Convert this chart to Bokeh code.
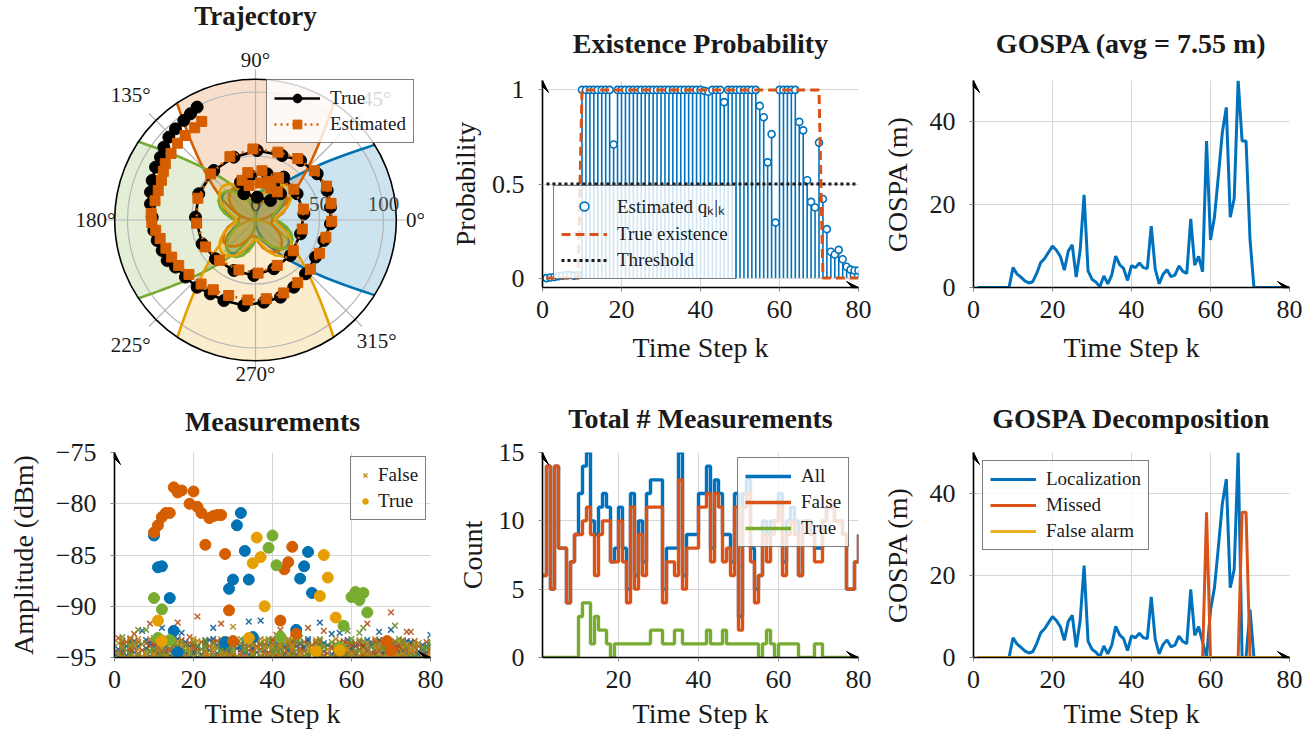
import numpy as np
from bokeh.plotting import figure
from bokeh.layouts import column, row
from bokeh.models import Range1d, Legend, LegendItem, Label, Arrow, VeeHead, FixedTicker
from bokeh.embed import file_html
from bokeh.resources import INLINE
from bokeh.core.properties import value

FONT = "Liberation Serif"
C_BLUE = "#0072BD"
C_ORANGE = "#D95319"
C_YELLOW = "#EDB120"
C_GREEN = "#77AC30"
SENSOR_COLORS = ["#0072B2", "#D55E00", "#77AC30", "#E69F00"]
SENSOR_X_COLORS = ["#0B5C94", "#B4501A", "#6B8F2B", "#B7851A"]

# ---------------------------------------------------------------- data
steps = list(range(1, 81))

existence_est = [0.0, 0.003, 0.006, 0.01, 0.012, 0.015, 0.016, 0.012, 0.015,
                 1, 1, 1, 1, 1, 1, 1, 1,
                 0.71,
                 1, 1, 1, 1, 1, 1, 1, 1, 1, 1, 1, 1, 1, 1, 1, 1, 1, 1, 1, 1, 1, 1,
                 0.995, 0.99, 1, 1, 1, 0.935,
                 1, 1, 1, 1, 1, 1, 1, 1,
                 0.915, 0.855, 0.615, 0.765, 0.295,
                 1, 1, 1, 1, 1,
                 0.83, 0.785, 0.52, 0.405, 0.375, 0.72, 0.42, 0.26, 0.14, 0.125,
                 0.15, 0.10, 0.06, 0.045, 0.04, 0.04]
existence_true = [0, 0, 0, 0, 0, 0, 0, 0, 0, 1,
                  1, 1, 1, 1, 1, 1, 1, 1, 1, 1,
                  1, 1, 1, 1, 1, 1, 1, 1, 1, 1,
                  1, 1, 1, 1, 1, 1, 1, 1, 1, 1,
                  1, 1, 1, 1, 1, 1, 1, 1, 1, 1,
                  1, 1, 1, 1, 1, 1, 1, 1, 1, 1,
                  1, 1, 1, 1, 1, 1, 1, 1, 1, 1,
                  0, 0, 0, 0, 0, 0, 0, 0, 0, 0]
threshold = 0.5

gospa_total = [0, 0, 0, 0, 0, 0, 0, 0, 0,
               4.8, 3.3, 2.5, 1.6, 1.1, 1.4, 3.4, 6.0, 7.0, 8.5, 10.0, 9.0, 7.5, 4.2,
               8.8, 10.3, 2.5, 9.0, 22.4, 4.0, 2.0, 1.3, 0.2, 2.8, 0.9, 3.0, 7.6, 5.5,
               4.6, 1.7, 5.3, 4.8, 5.9, 4.8, 4.6, 14.8, 4.5, 0.9, 3.2, 4.3, 2.6, 3.0,
               5.2, 3.9, 3.4, 16.6, 5.4, 7.5, 3.8, 35.4, 11.5, 17.0, 27.0, 37.5, 43.5,
               17.0, 21.5, 50.0, 35.4, 35.4, 11.7,
               0, 0, 0, 0, 0, 0, 0, 0, 0, 0]
gospa_localization = [0, 0, 0, 0, 0, 0, 0, 0, 0,
                      4.8, 3.3, 2.5, 1.6, 1.1, 1.4, 3.4, 6.0, 7.0, 8.5, 10.0, 9.0, 7.5, 4.2,
                      8.8, 10.3, 2.5, 9.0, 22.4, 4.0, 2.0, 1.3, 0.2, 2.8, 0.9, 3.0, 7.6, 5.5,
                      4.6, 1.7, 5.3, 4.8, 5.9, 4.8, 4.6, 14.8, 4.5, 0.9, 3.2, 4.3, 2.6, 3.0,
                      5.2, 3.9, 3.4, 16.6, 5.4, 7.5, 3.8, 0.0, 11.5, 17.0, 27.0, 37.5, 43.5,
                      17.0, 21.5, 50.0, 0.0, 0.0, 11.7,
                      0, 0, 0, 0, 0, 0, 0, 0, 0, 0]
gospa_missed = [0] * 58 + [35.4] + [0] * 8 + [35.4, 35.4] + [0] * 11
gospa_false = [0] * 80

count_false = [6, 14, 5, 14, 8, 8, 4, 7, 9, 9, 10, 11, 9, 6, 9, 10, 10, 7, 7, 10,
               7, 4, 11, 5, 9, 6, 11, 11, 11, 11, 4, 7, 7, 6, 13, 5, 8, 8, 8, 11,
               11, 12, 7, 12, 11, 7, 8, 6, 11, 2, 11, 12, 7, 4, 6, 9, 7, 9, 10, 11,
               6, 9, 10, 9, 6, 10, 10, 9, 7, 7, 10, 11, 11, 10, 10, 9, 5, 5, 7, 9]
count_true = [0, 0, 0, 0, 0, 0, 0, 0, 0, 3, 4, 4, 1, 3, 2, 2, 1, 0, 1, 1,
              1, 1, 1, 1, 1, 1, 1, 2, 2, 2, 1, 1, 1, 2, 2, 1, 1, 1, 1, 1,
              1, 2, 1, 1, 1, 2, 1, 1, 1, 1, 1, 1, 1, 1, 0, 1, 2, 1, 0, 1,
              1, 1, 1, 1, 0, 0, 0, 0, 1, 1, 0, 0, 0, 0, 0, 0, 0, 0, 0, 0]

# true detections per sensor (time step, amplitude dBm)
det_k = [
    [10, 11, 12, 14, 15, 16, 28, 29, 30, 31, 32, 33, 34, 35, 46, 47, 48, 49, 50],
    [10, 11, 12, 13, 14, 15, 16, 17, 19, 20, 21, 22, 23, 24, 25, 26, 27, 28, 29, 30,
     42, 43, 44, 45, 46, 69, 70],
    [10, 11, 12, 14, 39, 40, 41, 42, 57, 58, 60, 61, 62, 63, 64],
    [11, 12, 34, 35, 36, 37, 38, 51, 52, 53, 54, 56, 57],
]
det_amp = [
    [-83.1, -86.2, -86.1, -89.2, -92.4, -94.5, -93.5, -88.3, -87.4, -82.1, -80.9,
     -84.6, -87.4, -93.0, -92.3, -87.3, -86.1, -84.7, -88.7],
    [-82.8, -82.1, -81.3, -80.9, -80.9, -78.4, -78.9, -78.7, -80.0, -78.8, -80.3,
     -80.9, -84.0, -81.4, -81.2, -81.1, -81.1, -84.9, -90.4, -93.4,
     -91.4, -86.4, -85.7, -84.2, -92.7, -93.4, -94.3],
    [-89.2, -93.1, -90.3, -93.3, -84.3, -83.1, -86.0, -93.0, -94.0, -91.9, -89.1,
     -88.6, -89.4, -88.7, -90.6],
    [-91.4, -93.4, -93.1, -85.8, -83.3, -85.2, -90.0, -94.4, -89.0, -85.0, -87.2,
     -91.1, -94.3],
]

# false-alarm amplitudes (dBm) per time step, sensor = position % 4
false_amp = [
    [-94.2, -93.1, -94.8, -93.6, -95.0, -94.5],
    [-93.4, -94.6, -93.0, -94.1, -95.0, -93.8, -94.9, -93.3, -94.4, -94.7, -93.9, -95.0, -94.2, -93.6],
    [-94.8, -93.5, -94.3, -95.0, -93.9],
    [-94.0, -93.3, -94.7, -93.1, -94.9, -94.4, -93.7, -95.0, -93.5, -94.2, -94.8, -93.9, -94.6, -93.2],
    [-94.5, -92.7, -93.8, -94.9, -93.4, -94.1, -95.0, -93.6],
    [-93.9, -94.6, -92.3, -94.2, -95.0, -93.5, -94.8, -93.2],
    [-92.4, -94.3, -93.7, -94.9],
    [-94.1, -93.6, -92.3, -94.7, -93.3, -95.0, -94.4],
    [-93.8, -91.7, -94.5, -93.2, -94.9, -93.9, -94.3, -95.0, -93.5],
    [-94.4, -93.7, -93.1, -94.8, -95.0, -93.4, -94.2, -94.6, -93.9],
    [-93.5, -94.1, -94.9, -92.9, -94.5, -93.8, -95.0, -94.3, -93.2, -94.7],
    [-92.1, -94.6, -93.9, -94.2, -95.0, -93.4, -94.8, -93.7, -94.4, -93.1, -94.9],
    [-94.0, -93.5, -94.7, -95.0, -93.2, -94.3, -93.8, -94.9, -94.5],
    [-93.6, -94.4, -95.0, -93.3, -94.8, -94.1],
    [-94.7, -93.9, -94.2, -93.4, -95.0, -94.5, -93.7, -94.9, -93.1],
    [-94.3, -91.6, -94.8, -93.5, -94.0, -95.0, -93.8, -94.6, -93.2, -94.4],
    [-92.6, -94.1, -93.6, -94.9, -95.0, -93.3, -94.5, -93.9, -94.7, -94.2],
    [-94.6, -93.8, -94.3, -95.0, -93.5, -94.9, -93.9],
    [-93.9, -93.0, -94.7, -94.2, -95.0, -93.6, -94.4],
    [-94.4, -93.7, -95.0, -93.2, -94.8, -94.1, -93.5, -94.9, -94.6, -93.9],
    [-94.0, -91.0, -94.6, -93.4, -95.0, -94.3, -93.8],
    [-94.7, -93.5, -94.2, -95.0],
    [-93.6, -94.4, -93.3, -94.9, -95.0, -93.9, -94.1, -94.6, -93.4, -94.8, -93.7],
    [-94.3, -93.9, -95.0, -94.7, -93.3],
    [-92.1, -94.5, -93.7, -94.2, -95.0, -93.5, -94.8, -94.0, -93.2],
    [-94.6, -93.4, -94.1, -95.0, -93.8, -94.9],
    [-93.8, -91.7, -94.3, -94.8, -95.0, -93.5, -94.6, -93.2, -94.1, -94.9, -93.6],
    [-94.2, -93.6, -94.9, -93.3, -95.0, -94.5, -93.9, -94.7, -94.0, -93.4, -94.8],
    [-93.5, -94.7, -94.0, -93.2, -94.4, -95.0, -93.8, -94.9, -94.1, -93.6, -94.6],
    [-94.8, -93.4, -94.5, -92.0, -95.0, -93.9, -94.2, -94.6, -93.7, -94.9, -93.3],
    [-94.1, -93.7, -94.9, -95.0],
    [-93.9, -94.5, -93.2, -95.0, -94.2, -94.8, -93.6],
    [-94.6, -93.8, -94.1, -95.0, -93.4, -94.9, -94.3],
    [-91.5, -94.3, -93.6, -95.0, -94.7, -93.9],
    [-94.0, -93.5, -94.8, -93.1, -95.0, -94.4, -93.7, -94.6, -94.2, -93.3, -94.9, -93.8, -94.5],
    [-94.5, -93.9, -95.0, -94.1, -93.4],
    [-91.4, -94.2, -93.6, -94.8, -95.0, -93.8, -94.4, -93.2],
    [-94.3, -93.7, -94.9, -93.3, -95.0, -94.6, -93.9, -94.1],
    [-93.8, -94.5, -93.2, -94.0, -95.0, -94.7, -93.5, -94.8],
    [-94.6, -93.4, -94.1, -94.8, -95.0, -93.7, -94.3, -93.9, -94.9, -93.2, -94.5],
    [-93.6, -92.8, -94.4, -95.0, -93.9, -94.7, -94.1, -93.3, -94.9, -94.2, -93.8],
    [-94.2, -92.3, -93.5, -94.9, -95.0, -93.8, -94.6, -94.0, -93.4, -94.8, -94.3, -93.7],
    [-93.9, -94.5, -95.0, -93.3, -94.7, -94.1, -93.6],
    [-94.4, -93.7, -94.0, -93.2, -95.0, -94.8, -93.5, -94.6, -94.2, -93.9, -94.9, -93.4],
    [-93.5, -94.2, -94.8, -93.8, -95.0, -94.5, -93.3, -94.0, -94.7, -93.6, -94.9],
    [-94.7, -93.6, -94.3, -95.0, -93.9, -94.8, -93.4],
    [-93.7, -94.4, -93.1, -94.9, -95.0, -94.1, -93.5, -94.6],
    [-94.1, -93.5, -94.8, -95.0, -93.9, -94.4],
    [-93.4, -92.1, -94.6, -94.0, -95.0, -93.7, -94.9, -94.3, -93.2, -94.7, -93.8],
    [-94.5, -93.8],
    [-94.2, -93.6, -94.9, -93.3, -95.0, -94.5, -93.9, -94.7, -94.1, -93.5, -94.8],
    [-91.6, -94.3, -93.8, -94.6, -95.0, -93.4, -94.9, -94.1, -93.7, -94.5, -93.2, -94.8],
    [-94.4, -92.4, -94.0, -95.0, -93.6, -94.8, -93.9],
    [-93.8, -94.6, -95.0, -94.2],
    [-92.7, -94.1, -93.5, -95.0, -94.7, -93.9],
    [-94.3, -93.7, -94.9, -93.2, -95.0, -94.5, -93.8, -94.1, -94.7],
    [-92.6, -94.4, -93.9, -95.0, -94.8, -93.5, -94.2],
    [-94.6, -93.4, -94.0, -94.8, -95.0, -93.7, -94.3, -93.9, -94.9],
    [-93.9, -94.5, -92.4, -94.1, -95.0, -93.6, -94.8, -94.2, -93.3, -94.7],
    [-94.2, -93.8, -93.2, -94.6, -95.0, -94.4, -93.5, -94.9, -94.0, -93.7, -94.8],
    [-94.7, -93.6, -94.3, -95.0, -93.9, -94.5],
    [-93.5, -94.2, -92.6, -94.8, -95.0, -93.8, -94.4, -93.3, -94.9],
    [-94.0, -93.7, -92.1, -94.5, -95.0, -94.8, -93.4, -94.2, -93.9, -94.6],
    [-94.4, -91.7, -94.8, -93.6, -95.0, -94.1, -93.8, -94.6, -93.3],
    [-93.8, -94.5, -94.0, -95.0, -93.5, -94.8],
    [-94.3, -93.6, -94.9, -93.2, -95.0, -94.6, -93.9, -94.1, -94.7, -93.4],
    [-92.5, -94.2, -93.8, -94.6, -95.0, -93.5, -94.9, -94.0, -93.3, -94.4],
    [-94.6, -93.9, -94.2, -95.0, -93.6, -94.8, -94.1, -93.4, -94.5],
    [-93.7, -94.4, -94.9, -95.0, -93.3, -94.1, -94.6],
    [-92.3, -90.6, -94.3, -95.0, -93.8, -94.7, -94.0],
    [-94.5, -93.6, -91.9, -94.9, -95.0, -94.2, -93.4, -94.7, -93.9, -94.3],
    [-93.9, -94.3, -94.7, -93.5, -95.0, -94.0, -93.2, -94.8, -94.5, -93.7, -94.9],
    [-94.2, -93.8, -93.4, -94.6, -95.0, -94.9, -93.6, -94.1, -94.4, -93.3, -94.7],
    [-94.7, -92.5, -94.0, -93.7, -95.0, -94.4, -93.9, -94.8, -93.4, -94.2],
    [-93.6, -92.5, -94.5, -94.1, -95.0, -93.8, -94.9, -94.3, -93.5, -94.6],
    [-94.0, -93.4, -94.8, -93.9, -95.0, -94.5, -93.7, -94.2, -94.9],
    [-94.4, -93.9, -95.0, -93.6, -94.7],
    [-93.8, -94.6, -94.1, -95.0, -94.3],
    [-94.5, -93.5, -94.2, -95.0, -93.9, -94.8, -94.0],
    [-92.8, -94.3, -93.7, -94.9, -95.0, -94.1, -93.4, -94.6, -93.8],
]

# trajectory (metres, sensor at origin)
true_x = [-45.6, -50.8, -56.0, -62.5, -67.7, -71.6, -74.2, -78.1, -80.7, -82.0,
          -82.0, -80.7, -79.4, -76.8, -72.9, -69.0, -62.5, -54.7, -45.6, -35.2,
          -24.7, -9.1, 6.5, 19.5, 29.9, 39.1, 46.9, 53.4, 58.6, 58.6,
          56.0, 48.2, 35.2, 20.8, 1.3, -16.9, -32.6, -44.3, -46.9, -41.7,
          -31.3, -16.9, -1.3, 14.3, 27.3, 35.2, 37.8, 32.5, 22.1, 9.1,
          -3.9, -11.7, -9.1, 1.3, 11.7, 19.5, 14.3]
true_y = [88.2, 83.0, 77.8, 71.2, 64.7, 56.9, 49.1, 41.3, 30.9, 21.8,
          12.6, 2.2, -8.2, -16.0, -23.8, -31.6, -36.8, -44.6, -52.5, -57.7,
          -62.9, -66.8, -64.2, -60.3, -52.5, -42.0, -29.0, -16.0, -3.0, 10.0,
          23.1, 36.1, 46.5, 50.4, 54.3, 49.1, 38.7, 20.5, 2.2, -18.6,
          -30.3, -39.4, -43.3, -38.1, -27.7, -10.8, 4.8, 20.5, 33.5, 36.1,
          34.8, 29.6, 20.5, 17.9, 15.2, 20.5, 28.3]
est_x = [-42.0, -47.5, -55.0, -61.0, -66.0, -70.5, -72.0, -73.5, -76.0, -78.5,
         -81.5, -81.0, -78.0, -74.5, -70.0, -65.5, -60.0, -52.0, -42.5, -33.0,
         -21.0, -6.0, 8.5, 22.0, 33.0, 43.0, 50.0, 55.0, 59.5, 59.0,
         55.5, 46.0, 33.0, 17.5, -2.0, -20.0, -35.0, -45.0, -46.0, -39.0,
         -28.0, -13.0, 2.0, 17.0, 29.5, 36.5, 37.5, 30.0, 18.0, 5.0,
         -6.0, -10.5, -5.0, 4.0, 12.0, 17.0, 10.0]
est_y = [77.0, 72.0, 66.0, 60.0, 52.0, 44.0, 38.0, 31.0, 23.0, 15.0,
         5.0, -2.0, -8.0, -14.5, -22.0, -29.0, -35.5, -42.5, -50.0, -54.5,
         -59.0, -62.5, -61.5, -57.0, -49.0, -38.5, -26.0, -13.5, -1.0, 13.0,
         26.5, 38.5, 48.0, 53.0, 55.5, 49.5, 36.0, 17.0, -2.5, -21.0,
         -31.5, -39.0, -41.5, -35.5, -24.0, -7.0, 8.5, 24.0, 33.0, 38.5,
         37.0, 31.0, 27.0, 29.0, 25.0, 22.0, 30.0]

# sensor coverage (boresight angle, parabola coefficient 1/m) and beam pattern
sensor_angle_deg = [0, 90, 180, 270]
sensor_parabola = [0.027, 0.0243, 0.0245, 0.0246]
pattern_step_deg = [0, 7.5, 15, 22.5, 30, 37.5, 45, 52.5, 60, 67.5, 75, 82.5, 90]
pattern_radius = [15, 16.5, 21, 27, 32, 35.5, 37, 35.5, 32, 27, 21, 16.5, 15]
pattern_scale = [0.88, 0.82, 0.92, 1.0]
pattern_rotation_deg = [6, -8, 10, 0]

r_max = 110
radial_ticks = [0, 50, 100]
angle_ticks = [0, 45, 90, 135, 180, 225, 270, 315]

# ---------------------------------------------------------------- helpers
def base_style(p, xlabel, ylabel, xticks, yticks, ylabel_map=None, bottom_row=False,
               ylab_standoff=14, title_standoff=44):
    p.title.text_font = FONT
    p.title.text_font_size = "28px"
    p.title.text_font_style = "bold"
    p.title.text_color = "#1a1a1a"
    p.title.align = "center"
    p.title.standoff = title_standoff
    p.xaxis.axis_label = xlabel
    p.yaxis.axis_label = ylabel
    xt = FixedTicker(ticks=xticks)
    yt = FixedTicker(ticks=yticks)
    p.xaxis[0].ticker = xt
    p.yaxis[0].ticker = yt
    p.xgrid[0].ticker = xt
    p.ygrid[0].ticker = yt
    if ylabel_map:
        p.yaxis.major_label_overrides = ylabel_map
    p.axis.axis_label_text_font = FONT
    p.axis.axis_label_text_font_size = "28px"
    p.axis.axis_label_text_font_style = "normal"
    p.axis.axis_label_text_color = "#1a1a1a"
    p.axis.axis_label_text_line_height = 1.0
    p.axis.major_label_text_font = FONT
    p.axis.major_label_text_font_size = "26px"
    p.axis.major_label_text_color = "#1a1a1a"
    p.axis.major_label_text_line_height = 1.0
    p.axis.axis_line_color = "black"
    p.axis.axis_line_width = 1.6
    p.axis.major_tick_in = 0
    p.axis.major_tick_out = 4
    p.axis.major_tick_line_color = "#888888"
    p.axis.minor_tick_in = 0
    p.axis.minor_tick_out = 0
    p.xaxis.major_label_standoff = 9
    p.yaxis.major_label_standoff = 14
    p.xaxis.axis_label_standoff = 7 if bottom_row else 11
    p.yaxis.axis_label_standoff = ylab_standoff
    p.grid.grid_line_color = "#d6d6d6"
    p.grid.grid_line_width = 1
    p.outline_line_color = None
    xr, yr = p.x_range, p.y_range
    dx = (xr.end - xr.start) * 0.03
    dy = (yr.end - yr.start) * 0.03
    head = dict(size=12, line_color="black", fill_color="black", line_width=1)
    p.add_layout(Arrow(end=VeeHead(**head), x_start=xr.end - dx, y_start=yr.start,
                       x_end=xr.end, y_end=yr.start, line_color="black", line_width=1.6))
    p.add_layout(Arrow(end=VeeHead(**head), x_start=xr.start, y_start=yr.end - dy,
                       x_end=xr.start, y_end=yr.end, line_color="black", line_width=1.6))


def make_legend(items, loc, glyph_width=46, standoff=10):
    lg = Legend(items=items, location=loc, margin=0)
    lg.label_text_font = FONT
    lg.label_text_font_size = "19px"
    lg.label_text_color = "#1a1a1a"
    lg.border_line_color = "black"
    lg.border_line_width = 1.5
    lg.background_fill_color = "white"
    lg.background_fill_alpha = 0.82
    lg.padding = 7
    lg.spacing = 4
    lg.glyph_width = glyph_width
    lg.glyph_height = 22
    lg.label_height = 22
    lg.label_standoff = standoff
    return lg


def fig(title, xr, yr, w, h, bl, br, bt, bb):
    p = figure(title=title, width=w, height=h, x_range=Range1d(*xr), y_range=Range1d(*yr),
               toolbar_location=None, output_backend="svg",
               min_border_left=bl, min_border_right=br, min_border_top=bt, min_border_bottom=bb)
    p.frame_align = False
    return p


COLW = [445, 432, 427]
BORD = [(114, 15), (97, 19), (96, 15)]
# (top, bottom) borders; frames are 207 px (upper) and 205 px (lower) high
UPPER = (80, 92)
LOWER = (73, 76)
POLAR_H = 385
MEAS_B = (67, 76)

# ---------------------------------------------------------------- polar trajectory
PX = 1.28  # px per metre
cx, cy = 255, 219.5
pp = figure(width=COLW[0], height=POLAR_H,
            x_range=Range1d(-cx / PX, (COLW[0] - cx) / PX),
            y_range=Range1d(-(POLAR_H - cy) / PX, cy / PX),
            toolbar_location=None, output_backend="svg",
            x_axis_location=None, y_axis_location=None,
            min_border_left=0, min_border_right=0, min_border_top=0, min_border_bottom=0)
pp.frame_align = False
pp.grid.visible = False
pp.outline_line_color = None

reg_xs, reg_ys, bnd_xs, bnd_ys = [], [], [], []
for ang, c in zip(sensor_angle_deg, sensor_parabola):
    vh = np.sqrt((-1 + np.sqrt(1 + 4 * c * c * r_max ** 2)) / (2 * c * c))
    v = np.linspace(-vh, vh, 120)
    u = c * v * v
    al = np.arctan2(vh, c * vh * vh)
    a = np.linspace(al, -al, 80)
    U = np.concatenate([u, r_max * np.cos(a)])
    V = np.concatenate([v, r_max * np.sin(a)])
    ph = np.radians(ang)
    reg_xs.append(U * np.cos(ph) - V * np.sin(ph))
    reg_ys.append(U * np.sin(ph) + V * np.cos(ph))
    bnd_xs.append(u * np.cos(ph) - v * np.sin(ph))
    bnd_ys.append(u * np.sin(ph) + v * np.cos(ph))
pp.patches(reg_xs, reg_ys, fill_color=SENSOR_COLORS, fill_alpha=0.2, line_alpha=0)

# grid
pp.circle(x=[0] * (len(radial_ticks) - 1), y=[0] * (len(radial_ticks) - 1),
          radius=radial_ticks[1:], fill_color=None, line_color="#b5b5b5", line_width=1.2)
th = np.radians(angle_ticks)
pp.segment(x0=0, y0=0, x1=list(r_max * 1.07 * np.cos(th)), y1=list(r_max * 1.07 * np.sin(th)),
           line_color="#b5b5b5", line_width=1.2)
pp.multi_line(bnd_xs, bnd_ys, line_color=SENSOR_COLORS, line_width=2.6)

# beam patterns
quad_deg = np.array(pattern_step_deg[:-1])
quad_r = np.array(pattern_radius[:-1])
pat_xs, pat_ys = [], []
for sc, rot in zip(pattern_scale, pattern_rotation_deg):
    angs = np.concatenate([quad_deg + 90 * q for q in range(4)] + [quad_deg[:1]])
    rr = np.concatenate([quad_r] * 4 + [quad_r[:1]]) * sc
    t = np.radians(angs + rot)
    pat_xs.append(rr * np.cos(t))
    pat_ys.append(rr * np.sin(t))
pp.patches(pat_xs, pat_ys, fill_color=SENSOR_COLORS, fill_alpha=0.22,
           line_color=SENSOR_COLORS, line_width=2.6)

pp.circle(x=[0], y=[0], radius=[r_max], fill_color=None, line_color="black", line_width=1.6)

# labels (radius of each angle label in metres, outside the rim)
lab_r = [125, 134, 125, 138, 125, 138, 120, 134]
pp.text(x=[r * np.cos(np.radians(a)) for r, a in zip(lab_r, angle_ticks)],
        y=[r * np.sin(np.radians(a)) for r, a in zip(lab_r, angle_ticks)],
        text=[f"{a}°" for a in angle_ticks], text_font=value(FONT), text_font_size="21px",
        text_align="center", text_baseline="middle", text_color="#1a1a1a")
pp.text(x=radial_ticks, y=[12.5] * len(radial_ticks), text=[str(r) for r in radial_ticks],
        text_font=value(FONT), text_font_size="21px", text_align="center",
        text_baseline="middle", text_color="#444444")

tl = pp.line(true_x, true_y, line_color="black", line_width=2.6)
ts = pp.scatter(true_x, true_y, marker="circle", size=12, fill_color="black", line_color="black")
el = pp.line(est_x, est_y, line_color="#D55E00", line_width=2.6, line_dash="2 4")
es = pp.scatter(est_x, est_y, marker="square", size=10, fill_color="#D55E00", line_color="#D55E00")
pp.add_layout(Label(x=0, y=cy / PX, text="Trajectory", text_font=FONT, text_font_size="27px",
                    text_font_style="bold", text_align="center", text_baseline="top",
                    text_color="#1a1a1a"))
lgp = make_legend([LegendItem(label="True", renderers=[tl, ts]),
                   LegendItem(label="Estimated", renderers=[el, es])], (266, 242))
pp.add_layout(lgp)

# ---------------------------------------------------------------- existence probability
pe = fig("Existence Probability", (0, 80), (-0.05, 1.05), COLW[1], UPPER[0] + 207 + UPPER[1],
         BORD[1][0], BORD[1][1], UPPER[0], UPPER[1])
base_style(pe, "Time Step k", "Probability", [0, 20, 40, 60, 80], [0, 0.5, 1],
           {0: "0", 0.5: "0.5", 1: "1"}, ylab_standoff=8)
pe.segment(x0=steps, y0=[0] * len(steps), x1=steps, y1=existence_est, line_color=C_BLUE, line_width=1.6)
se = pe.scatter(steps, existence_est, marker="circle", size=7, line_color=C_BLUE,
                fill_color="white", line_width=1.6)
le = pe.line(steps, existence_true, line_color=C_ORANGE, line_width=3, line_dash="9 5")
lt = pe.line([steps[0], steps[-1]], [threshold, threshold], line_color="#1a1a1a",
             line_width=3, line_dash="3 3")
pe.add_layout(make_legend([LegendItem(label="Estimated qₖ|ₖ", renderers=[se]),
                           LegendItem(label="True existence", renderers=[le]),
                           LegendItem(label="Threshold", renderers=[lt])], (11, 8)))

# ---------------------------------------------------------------- GOSPA
pg = fig("GOSPA (avg = 7.55 m)", (0, 80), (0, 50), COLW[2], UPPER[0] + 207 + UPPER[1],
         BORD[2][0], BORD[2][1], UPPER[0], UPPER[1])
base_style(pg, "Time Step k", "GOSPA (m)", [0, 20, 40, 60, 80], [0, 20, 40])
pg.line(steps, gospa_total, line_color=C_BLUE, line_width=3)

# ---------------------------------------------------------------- measurements
pm = fig("Measurements", (0, 80), (-95, -75), COLW[0], MEAS_B[0] + 205 + MEAS_B[1],
         BORD[0][0], BORD[0][1], MEAS_B[0], MEAS_B[1])
base_style(pm, "Time Step k", "Amplitude (dBm)", [0, 20, 40, 60, 80],
           [-95, -90, -85, -80, -75],
           {-95: "−95", -90: "−90", -85: "−85", -80: "−80", -75: "−75"}, bottom_row=True,
           title_standoff=32)
fk = [[] for _ in range(4)]
fa = [[] for _ in range(4)]
for k, rw in zip(steps, false_amp):
    for j, a in enumerate(rw):
        fk[j % 4].append(k)
        fa[j % 4].append(a)
false_r = []
for s in range(4):
    false_r.append(pm.scatter(fk[s], fa[s], marker="x", size=8, line_color=SENSOR_X_COLORS[s],
                              line_width=1.5, line_alpha=0.9))
true_r = []
for s in range(4):
    true_r.append(pm.scatter(det_k[s], det_amp[s], marker="circle", size=11,
                             fill_color=SENSOR_COLORS[s], line_color=SENSOR_COLORS[s]))
pm.add_layout(make_legend([LegendItem(label="False", renderers=[false_r[3]]),
                           LegendItem(label="True", renderers=[true_r[3]])], (236, 137),
                          glyph_width=14, standoff=6))

# ---------------------------------------------------------------- counts
count_all = [a + b for a, b in zip(count_false, count_true)]
pc = fig("Total # Measurements", (1, 80), (0, 15), COLW[1], LOWER[0] + 205 + LOWER[1],
         BORD[1][0], BORD[1][1], LOWER[0], LOWER[1])
base_style(pc, "Time Step k", "Count", [20, 40, 60, 80], [0, 5, 10, 15], bottom_row=True,
           ylab_standoff=8, title_standoff=37)
ra = pc.step(steps, count_all, mode="after", line_color=C_BLUE, line_width=3.4)
rf = pc.step(steps, count_false, mode="after", line_color=C_ORANGE, line_width=3.4)
rt = pc.step(steps, count_true, mode="after", line_color=C_GREEN, line_width=3.4)
pc.add_layout(make_legend([LegendItem(label="All", renderers=[ra]),
                           LegendItem(label="False", renderers=[rf]),
                           LegendItem(label="True", renderers=[rt])], (195, 110)))

# ---------------------------------------------------------------- GOSPA decomposition
pd_ = fig("GOSPA Decomposition", (0, 80), (0, 50), COLW[2], LOWER[0] + 205 + LOWER[1],
          BORD[2][0], BORD[2][1], LOWER[0], LOWER[1])
base_style(pd_, "Time Step k", "GOSPA (m)", [0, 20, 40, 60, 80], [0, 20, 40], bottom_row=True,
           title_standoff=37)
r1 = pd_.line(steps, gospa_localization, line_color=C_BLUE, line_width=3)
r2 = pd_.line(steps, gospa_missed, line_color=C_ORANGE, line_width=3)
r3 = pd_.line(steps, gospa_false, line_color=C_YELLOW, line_width=3)
pd_.add_layout(make_legend([LegendItem(label="Localization", renderers=[r1]),
                            LegendItem(label="Missed", renderers=[r2]),
                            LegendItem(label="False alarm", renderers=[r3])], (9, 107)))

layout = row(column(pp, pm), column(pe, pc), column(pg, pd_))
open("out.html", "w").write(file_html(layout, INLINE))
